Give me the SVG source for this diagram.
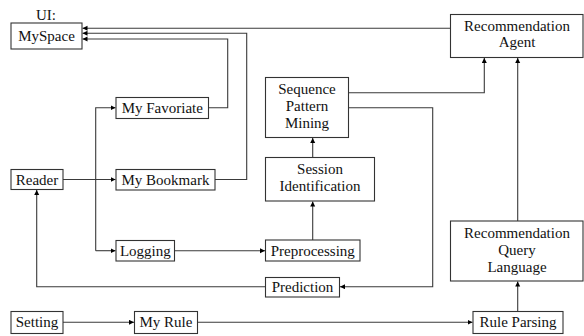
<svg xmlns="http://www.w3.org/2000/svg" width="584" height="336" viewBox="0 0 584 336">
  <defs>
    <marker id="arr" markerUnits="userSpaceOnUse" markerWidth="6" markerHeight="6" refX="5" refY="2.5" orient="auto">
      <path d="M0,0 L5,2.5 L0,5 z" fill="#000"/>
    </marker>
    <style>
      rect { fill: #fff; stroke: #333; stroke-width: 1.1; }
      .edge { fill: none; stroke: #3a3a3a; stroke-width: 1.1; marker-end: url(#arr); }
    </style>
  </defs>
  <rect x="0" y="0" width="584" height="336" style="fill:#fff;stroke:none"/>

  <g id="connectors">
    <path class="edge" d="M450.5,28.3 H82.5"/>
    <path class="edge" d="M215,179.5 H246.7 V33.3 H82.5"/>
    <path class="edge" d="M208.5,107.7 H227.7 V39 H82.5"/>
    <path class="edge" d="M63,179.5 H115.5"/>
    <path class="edge" d="M95.7,250.7 V107.7 H115.5"/>
    <path class="edge" d="M95.7,250.7 H115.5"/>
    <path class="edge" d="M174.5,250.7 H265"/>
    <path class="edge" d="M312.7,240 V201.5"/>
    <path class="edge" d="M312.7,157.5 V138"/>
    <path class="edge" d="M348.5,92.7 H484.3 V58"/>
    <path class="edge" d="M348.5,107.7 H432.7 V286.7 H340"/>
    <path class="edge" d="M265.5,286.7 H36.7 V190"/>
    <path class="edge" d="M63,322.3 H134"/>
    <path class="edge" d="M197.5,322.3 H472.5"/>
    <path class="edge" d="M517.7,311.5 V281.5"/>
    <path class="edge" d="M517.7,221 V58"/>
  </g>

  <g font-family="Liberation Serif" font-size="15" fill="#111" text-anchor="middle">
  <g id="myspace">
    <text x="46" y="19.5">UI:</text>
    <rect x="11" y="23" width="71" height="26"/>
    <text x="46.5" y="41">MySpace</text>
  </g>
  <g id="my-favoriate">
    <rect x="116" y="97.5" width="92.5" height="21"/>
    <text x="162.3" y="113">My Favoriate</text>
  </g>
  <g id="reader">
    <rect x="11" y="169.5" width="52" height="20"/>
    <text x="37" y="184.5">Reader</text>
  </g>
  <g id="my-bookmark">
    <rect x="116" y="169.5" width="99" height="20.5"/>
    <text x="165.5" y="184.5">My Bookmark</text>
  </g>
  <g id="logging">
    <rect x="116" y="240.5" width="58.5" height="20.5"/>
    <text x="145.3" y="255.5">Logging</text>
  </g>
  <g id="preprocessing">
    <rect x="265.5" y="240" width="94.5" height="21"/>
    <text x="312.8" y="255.5">Preprocessing</text>
  </g>
  <g id="prediction">
    <rect x="265.5" y="277.5" width="74" height="19.5"/>
    <text x="302.5" y="291.5">Prediction</text>
  </g>
  <g id="setting">
    <rect x="11" y="311.5" width="52" height="22"/>
    <text x="37" y="327">Setting</text>
  </g>
  <g id="my-rule">
    <rect x="134.5" y="311.5" width="63" height="22"/>
    <text x="166" y="327">My Rule</text>
  </g>
  <g id="rule-parsing">
    <rect x="473" y="311.5" width="90" height="22"/>
    <text x="518" y="327">Rule Parsing</text>
  </g>
  <g id="recommendation-query-language">
    <rect x="450.5" y="221" width="132.5" height="60"/>
    <text x="517" y="237.5">Recommendation</text>
    <text x="517" y="254.5">Query</text>
    <text x="517" y="271.5">Language</text>
  </g>
  <g id="recommendation-agent">
    <rect x="450.5" y="14.5" width="132.5" height="43"/>
    <text x="517" y="30.5">Recommendation</text>
    <text x="517" y="47">Agent</text>
  </g>
  <g id="sequence-pattern-mining">
    <rect x="265.5" y="77.5" width="83" height="60"/>
    <text x="307" y="93.5">Sequence</text>
    <text x="307" y="110.5">Pattern</text>
    <text x="307" y="127.5">Mining</text>
  </g>
  <g id="session-identification">
    <rect x="265.5" y="157.5" width="109" height="43.5"/>
    <text x="320" y="174">Session</text>
    <text x="320" y="191">Identification</text>
  </g>
  </g>
</svg>
